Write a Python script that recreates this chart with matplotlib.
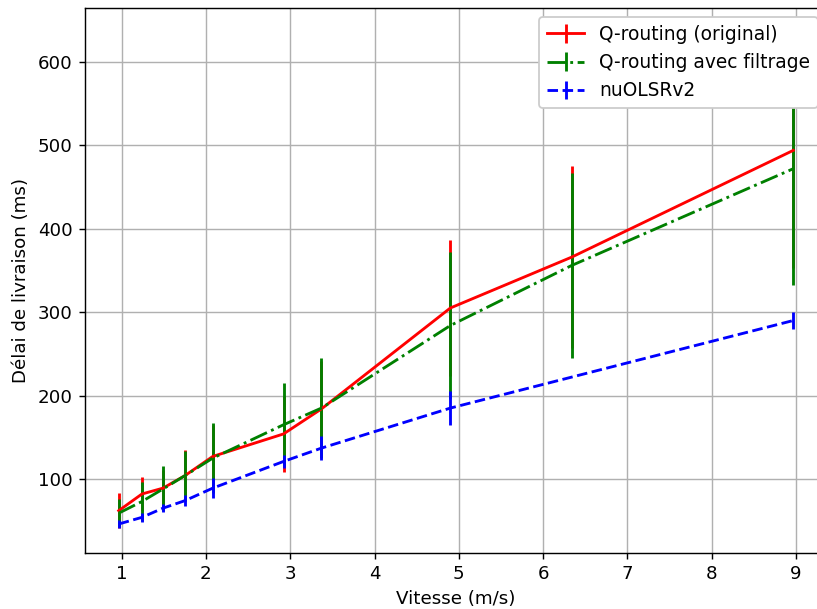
import matplotlib
matplotlib.use("Agg")
import matplotlib.pyplot as plt

x_q = [0.964, 1.24, 1.49, 1.75, 2.08, 2.92, 3.37, 4.90, 6.34, 8.97]
q_orig = [62, 82, 89, 104, 127, 154, 184, 305, 366, 494]
q_orig_err = [21, 20, 22, 31, 38, 46, 58, 82, 109, 141]
q_filt = [59, 73, 88, 104, 125, 165, 185, 284, 356, 472]
q_filt_err = [17, 23, 27, 30, 42, 50, 60, 88, 111, 139]

x_olsr = [0.964, 1.24, 1.49, 1.75, 2.08, 2.92, 3.37, 4.90, 8.97]
olsr = [46, 54, 65, 74, 89, 121, 137, 185, 290]
olsr_err = [4.5, 5, 5, 7, 12, 8, 14, 20, 10]

fig = plt.figure(figsize=(817 / 128, 609 / 128), dpi=128)
ax = fig.add_axes([85 / 817, 1 - 552.7 / 609, (827 - 85) / 817, (552.7 - 8) / 609])

ax.errorbar(x_q, q_orig, yerr=q_orig_err, color='r', linestyle='-', linewidth=1.6,
            label='Q-routing (original)')
ax.errorbar(x_q, q_filt, yerr=q_filt_err, color='g', linestyle='-.', linewidth=1.6,
            label='Q-routing avec filtrage')
ax.errorbar(x_olsr, olsr, yerr=olsr_err, color='b', linestyle='--', linewidth=1.6,
            label='nuOLSRv2')

ax.set_xlim(0.564, 9.37)
ax.set_ylim(11.6, 664.7)
ax.set_xticks([1, 2, 3, 4, 5, 6, 7, 8, 9])
ax.set_yticks([100, 200, 300, 400, 500, 600])
ax.tick_params(labelsize=10.3)
ax.grid(True)
ax.set_xlabel('Vitesse (m/s)', fontsize=10.3)
ax.set_ylabel('Délai de livraison (ms)', fontsize=10.3)
ax.legend(loc='upper right', fontsize=10.5, framealpha=1)

fig.savefig('out.png', dpi=128)
